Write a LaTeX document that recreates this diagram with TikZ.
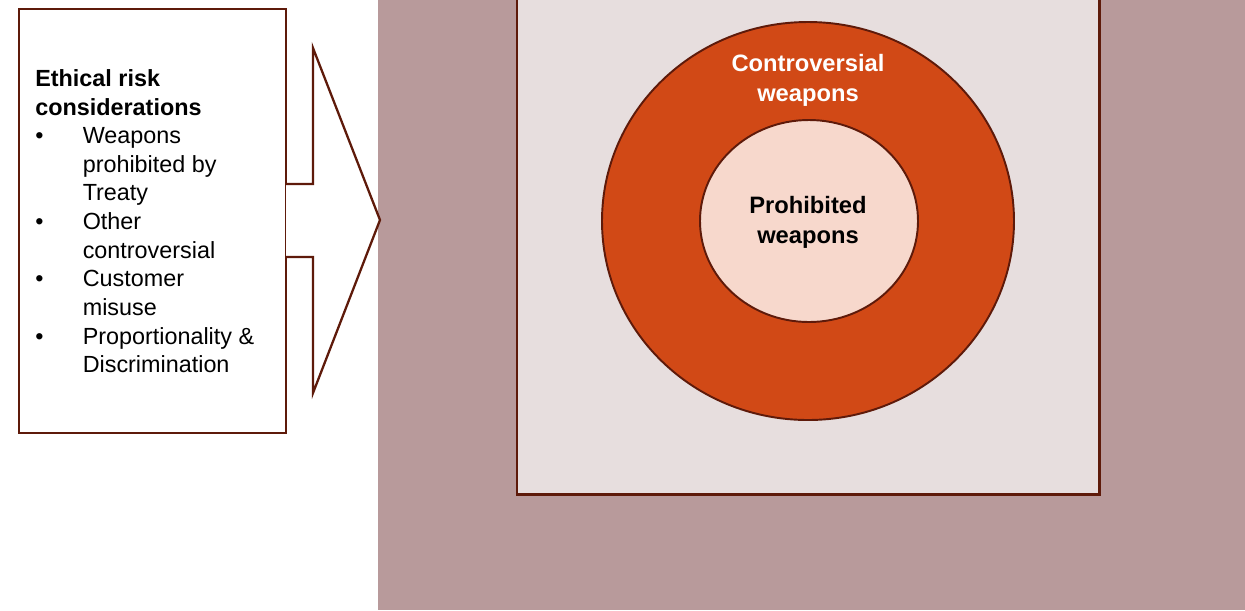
\documentclass[tikz,border=0pt]{standalone}
\usepackage{fontspec}
\setmainfont{Liberation Sans}
\definecolor{mauve}{HTML}{B89A9B}
\definecolor{pale}{HTML}{E7DEDE}
\definecolor{rust}{HTML}{D14916}
\definecolor{blush}{HTML}{F7D8CC}
\definecolor{rim}{HTML}{5E1A0A}
\tikzset{
  risktext/.style={inner sep=0pt, font=\fontsize{13.3}{16.3}\selectfont},
  ringtext/.style={align=center, font=\fontsize{13.5}{17}\selectfont\bfseries}
}

\begin{document}
\begin{tikzpicture}[x=0.02cm, y=-0.02cm]
	%%%%% START %%%%%
	\useasboundingbox (0,0) rectangle (1245,610);
	
	\fill[mauve] (378,0) rectangle (1245,610);
	\draw[line width=1.7pt, draw=rim, fill=pale] (517,-10) rectangle (1099,494);
	
	\draw[line width=1.1pt, draw=rim, fill=rust] (808,221) ellipse [x radius=206, y radius=199];
	\draw[line width=1.1pt, draw=rim, fill=blush] (809,221) ellipse [x radius=109, y radius=101];
	
	\node[ringtext, text=white] (ctrl) at (808,80) {Controversial\\weapons};
	\node[ringtext] (prohib) at (808,222) {Prohibited\\weapons};
	
	\draw[line width=1.4pt, draw=rim, fill=white] (19,9) rectangle (286,433);
	\draw[line width=1.3pt, draw=rim, fill=white] (286,184) -- (313,184) -- (313,48) -- (380,220)
		-- (313,393) -- (313,257) -- (286,257);
	
	\node[risktext, anchor=north west] (risks) at (35,66) {%
		\begin{tabular}{@{}p{27pt}@{}l@{}}
			\multicolumn{2}{@{}l@{}}{\bfseries Ethical risk}\\
			\multicolumn{2}{@{}l@{}}{\bfseries considerations}\\
			\textbullet & Weapons\\
			 & prohibited by\\
			 & Treaty\\
			\textbullet & Other\\
			 & controversial\\
			\textbullet & Customer\\
			 & misuse\\
			\textbullet & Proportionality \&\\
			 & Discrimination
		\end{tabular}};
	
	%%%%% END %%%%%
\end{tikzpicture}
\end{document}
